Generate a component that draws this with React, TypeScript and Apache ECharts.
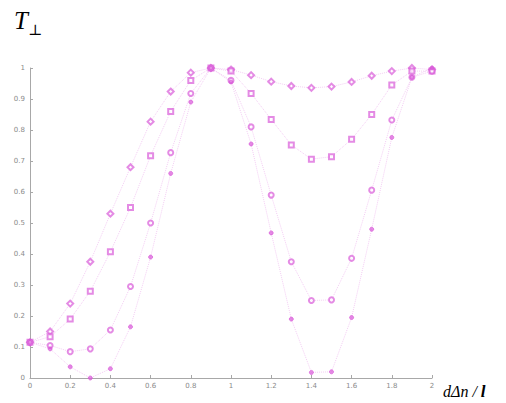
import React, { useEffect, useRef } from "react";
import * as echarts from "echarts";

const xValues = [0, 0.1, 0.2, 0.3, 0.4, 0.5, 0.6, 0.7, 0.8, 0.9, 1.0, 1.1, 1.2, 1.3, 1.4, 1.5, 1.6, 1.7, 1.8, 1.9, 2.0];

const seriesDiamond = [0.115, 0.15, 0.24, 0.375, 0.53, 0.68, 0.827, 0.924, 0.985, 1.0, 0.995, 0.977, 0.956, 0.942, 0.936, 0.94, 0.955, 0.975, 0.99, 1.0, 0.995];
const seriesSquare = [0.115, 0.133, 0.19, 0.28, 0.407, 0.55, 0.717, 0.86, 0.96, 1.0, 0.99, 0.918, 0.834, 0.752, 0.706, 0.714, 0.77, 0.85, 0.945, 0.99, 0.99];
const seriesCircle = [0.115, 0.105, 0.085, 0.094, 0.155, 0.295, 0.5, 0.727, 0.918, 1.0, 0.96, 0.81, 0.59, 0.375, 0.25, 0.252, 0.386, 0.606, 0.832, 0.97, 0.99];
const seriesDot = [0.115, 0.094, 0.036, 0.0, 0.03, 0.165, 0.39, 0.66, 0.89, 1.0, 0.955, 0.755, 0.468, 0.19, 0.018, 0.02, 0.195, 0.48, 0.776, 0.97, 1.0];

const markerColor = "#d85ad8";
const lineColor = "#f3cdf3";

function makeSeries(values: number[], symbol: string, size: number) {
  return {
    type: "line",
    data: xValues.map((x, i) => [x, values[i]]),
    symbol,
    symbolSize: size,
    showSymbol: true,
    lineStyle: { color: lineColor, width: 1, type: "dotted" },
    itemStyle: { color: markerColor, borderColor: markerColor, borderWidth: 1, opacity: 0.7 },
    emphasis: { disabled: true },
  };
}

export default function App() {
  const ref = useRef<HTMLDivElement>(null);
  useEffect(() => {
    if (!ref.current) return;
    const chart = echarts.init(ref.current, undefined, { renderer: "svg" });
    const axisLabel = { fontSize: 7, color: "#8a8a8a", fontFamily: "DejaVu Sans" };
    chart.setOption({
      animation: false,
      backgroundColor: "#ffffff",
      grid: { left: 30, right: 74, top: 68, bottom: 25, containLabel: false },
      xAxis: {
        type: "value",
        min: 0,
        max: 2,
        interval: 0.2,
        axisLine: { show: true, lineStyle: { color: "#a8a8a8", width: 1 } },
        axisTick: { show: true, inside: true, length: 3, lineStyle: { color: "#a8a8a8" } },
        splitLine: { show: false },
        axisLabel: { ...axisLabel, margin: 4 },
      },
      yAxis: {
        type: "value",
        min: 0,
        max: 1,
        interval: 0.1,
        axisLine: { show: true, lineStyle: { color: "#a8a8a8", width: 1 } },
        axisTick: { show: true, inside: true, length: 3, lineStyle: { color: "#a8a8a8" } },
        splitLine: { show: false },
        axisLabel: { ...axisLabel, margin: 5 },
      },
      series: [
        makeSeries(seriesDiamond, "emptyDiamond", 6),
        makeSeries(seriesSquare, "emptyRect", 5),
        makeSeries(seriesCircle, "emptyCircle", 5),
        makeSeries(seriesDot, "circle", 4),
      ],
      graphic: [
        {
          type: "text",
          left: 14,
          top: 8,
          style: { text: "T", font: "italic 25px 'Liberation Serif'", fill: "#000" },
        },
        {
          type: "text",
          left: 28,
          top: 22,
          style: { text: "⊥", font: "15px 'DejaVu Serif'", fill: "#000" },
        },
        {
          type: "text",
          left: 443,
          top: 383,
          style: {
            text: "{a|dΔn / }{b|l}",
            rich: {
              a: { font: "italic 16px 'Liberation Serif'", fill: "#000" },
              b: { font: "italic bold 17px 'Liberation Serif'", fill: "#000" },
            },
          },
        },
      ],
    });
    return () => chart.dispose();
  }, []);
  return <div ref={ref} style={{ width: 506, height: 403, position: "absolute", left: 0, top: 0 }} />;
}
